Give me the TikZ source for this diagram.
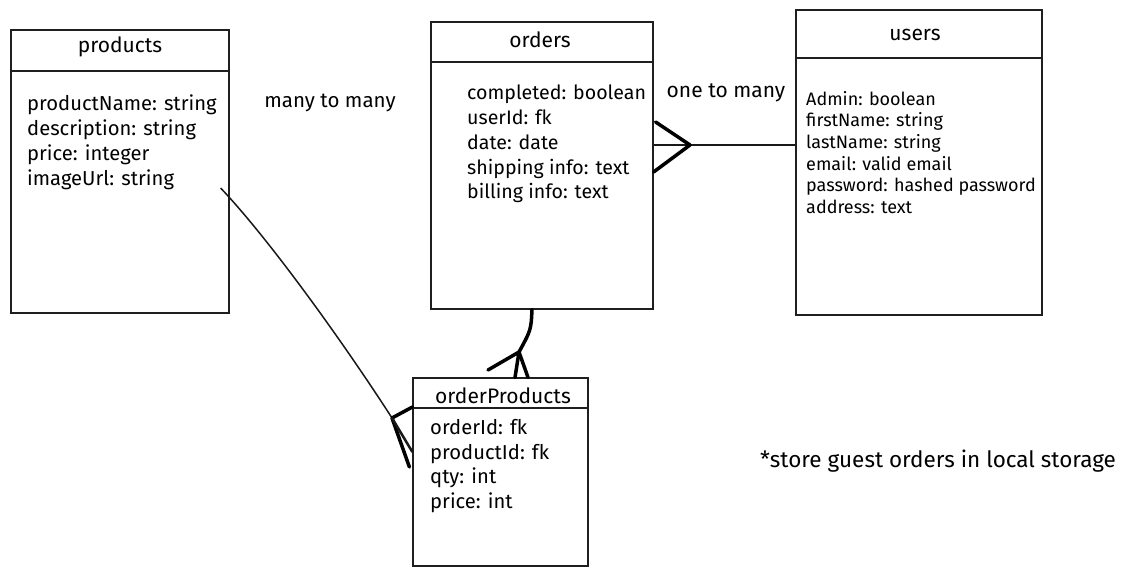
\documentclass[tikz,border=0pt]{standalone}
\usepackage{fontspec}
\setmainfont{Fira Sans}
\usetikzlibrary{positioning}
\tikzstyle{tbl}=[draw=black!88,line width=1.2pt,rectangle,inner sep=0pt]
\tikzstyle{title}=[inner sep=0pt,font=\fontsize{21}{25}\selectfont]
\tikzstyle{attr}=[anchor=north west,align=left,inner sep=0pt,font=\fontsize{20.2}{24.8}\selectfont]
\tikzstyle{rel}=[line width=1.5pt,draw=black!90]
\tikzstyle{crow}=[line width=3.5pt,line cap=round,line join=round,draw=black]

\begin{document}
\begin{tikzpicture}[x=1pt,y=-1pt]
  \useasboundingbox (0,0) rectangle (1131,576);
  % tables
  \node[tbl,minimum width=218pt,minimum height=283pt] (products) at (120,171.5) {};
  \node[tbl,minimum width=222pt,minimum height=287pt] (orders) at (542,165.5) {};
  \node[tbl,minimum width=246pt,minimum height=305pt] (users) at (919,162.5) {};
  \node[tbl,minimum width=175pt,minimum height=188pt] (orderProducts) at (500.5,472) {};
  \draw[tbl] (products.west |- 0,71) -- (products.east |- 0,71);
  \draw[tbl] (orders.west |- 0,62) -- (orders.east |- 0,62);
  \draw[tbl] (users.west |- 0,58) -- (users.east |- 0,58);
  \draw[tbl] (orderProducts.west |- 0,408) -- (orderProducts.east |- 0,408);
  % titles
  \node[title] (productsT) at (120,47) {products};
  \node[title] (ordersT) at (540,40) {orders};
  \node[title] (usersT) at (915,35) {users};
  \node[title] (orderProductsT) at (503,396) {orderProducts};
  % fields
  \node[attr] (productsF) at (27,95) {productName: string\\description: string\\price: integer\\imageUrl: string};
  \node[attr,font=\fontsize{19.6}{24.7}\selectfont] (ordersF) at (467,85) {completed: boolean\\userId: fk\\date: date\\shipping info: text\\billing info: text};
  \node[attr,font=\fontsize{18}{21.6}\selectfont] (usersF) at (806,91) {Admin: boolean\\firstName: string\\lastName: string\\email: valid email\\password: hashed password\\address: text};
  \node[attr] (orderProductsF) at (430,419) {orderId: fk\\productId: fk\\qty: int\\price: int};
  % notes
  \node[title,font=\fontsize{20.5}{25}\selectfont] (m2m) at (330,103) {many to many};
  \node[title] (o2m) at (726,93) {one to many};
  \node[title,font=\fontsize{22.5}{27}\selectfont] (note) at (938,461) {*store guest orders in local storage};
  % relations
  \coordinate (ouA) at (690,145);
  \draw[rel] (orders.east |- ouA) -- (users.west |- ouA);
  \draw[crow] ([xshift=2pt]orders.east |- 0,122) -- (ouA) -- (orders.east |- 0,172);
  \coordinate (opA) at (519,352);
  \draw[crow] (orders.south -| 532,0) .. controls (531,330) .. (opA);
  \draw[crow] (488,370) -- (opA) -- (orderProducts.north -| 515,0);
  \draw[crow] (opA) -- (orderProducts.north -| 528,0);
  \coordinate (ppA) at (392,418);
  \draw[rel] ([shift={(-9,16.5)}]products.east) .. controls (270,240) and (345,345) .. (ppA);
  \draw[crow] (orderProducts.west |- 0,407) -- (ppA) -- ([xshift=-3pt]orderProducts.west |- 0,467);
  \draw[rel,line width=2.5pt] (ppA) -- (orderProducts.west |- 0,452);
\end{tikzpicture}
\end{document}
